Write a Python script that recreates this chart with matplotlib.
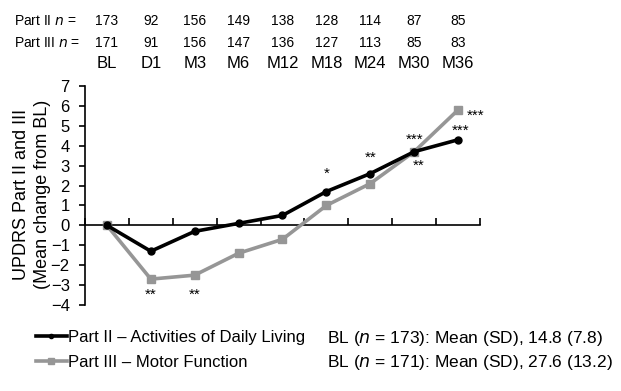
import matplotlib
matplotlib.use("Agg")
import matplotlib.pyplot as plt
import matplotlib.transforms as mtransforms
from matplotlib.lines import Line2D

plt.rcParams['font.family'] = ['Liberation Sans', 'DejaVu Sans']

# data
visits = ["BL", "D1", "M3", "M6", "M12", "M18", "M24", "M30", "M36"]
n_part2 = [173, 92, 156, 149, 138, 128, 114, 87, 85]
n_part3 = [171, 91, 156, 147, 136, 127, 113, 85, 83]
part2 = [0, -1.3, -0.3, 0.1, 0.5, 1.7, 2.6, 3.7, 4.3]
part3 = [0, -2.7, -2.5, -1.4, -0.7, 1.0, 2.1, 3.7, 5.8]

# significance marks: (visit index, y value, text, x offset)
stars = [(1, -3.5, "**", 0), (2, -3.5, "**", 0), (5, 2.6, "*", 0),
         (6, 3.4, "**", 0), (7, 4.3, "***", 0), (7, 3.0, "**", 0.1),
         (8, 4.75, "***", 0.05), (8, 5.5, "***", 0.4)]

W, H = 621, 391
fig = plt.figure(figsize=(W / 100, H / 100), dpi=100)

def fx(px):
    return px / W

def fy(py):
    return 1 - py / H

ax = fig.add_axes([fx(85), fy(305), fx(480) - fx(85), fy(86) - fy(305)])

gray = "#969696"
x = list(range(len(visits)))
ax.plot(x, part3, color=gray, lw=2.6, marker="s", ms=6, zorder=3)
ax.plot(x, part2, color="black", lw=2.6, marker="o", ms=5, zorder=4)

for i, yv, s, dx in stars:
    ax.text(i + dx, yv, s, ha="center", va="center", fontsize=11)

ax.set_xlim(-0.5, 8.5)
ax.set_ylim(-4, 7)
ax.set_yticks(range(-4, 8))
ax.set_xticks([i - 0.5 for i in range(10)])
ax.set_xticklabels([])
ax.spines["top"].set_visible(False)
ax.spines["right"].set_visible(False)
ax.spines["bottom"].set_position(("data", 0))
ax.spines["left"].set_linewidth(1.2)
ax.spines["bottom"].set_linewidth(1.2)
ax.tick_params(axis="x", direction="in", length=5, width=1.2)
ax.tick_params(axis="y", direction="out", length=4, width=1.2, pad=7, labelsize=12)

fig.text(fx(32), fy(194), "UPDRS Part II and III\n(Mean change from BL)",
         fontsize=13, rotation=90, ha="center", va="center",
         linespacing=1.3, multialignment="center")

# top n table, columns follow the data x positions
tr = mtransforms.blended_transform_factory(ax.transData, fig.transFigure)
fig.text(fx(14), fy(21), "Part II $\\it{n}$ =", fontsize=10, va="center")
fig.text(fx(14), fy(43), "Part III $\\it{n}$ =", fontsize=10, va="center")
for i, (a, b, v) in enumerate(zip(n_part2, n_part3, visits)):
    ax.text(i, fy(21), str(a), transform=tr, fontsize=10, ha="center", va="center")
    ax.text(i, fy(43), str(b), transform=tr, fontsize=10, ha="center", va="center")
    ax.text(i, fy(63), v, transform=tr, fontsize=12, ha="center", va="center")

# legend
handles = [Line2D([], [], color="black", lw=2.6, marker="o", ms=3),
           Line2D([], [], color=gray, lw=2.6, marker="s", ms=4)]
fig.legend(handles, ["Part II \u2013 Activities of Daily Living",
                     "Part III \u2013 Motor Function"],
           loc="upper left", bbox_to_anchor=(fx(36), fy(330)), frameon=False,
           fontsize=12, handlelength=1.85, handletextpad=0.1,
           labelspacing=0.6, borderpad=0, borderaxespad=0)
fig.text(fx(327), fy(338), "BL ($\\it{n}$ = 173): Mean (SD), 14.8 (7.8)",
         fontsize=12.5, va="center")
fig.text(fx(327), fy(362), "BL ($\\it{n}$ = 171): Mean (SD), 27.6 (13.2)",
         fontsize=12.5, va="center")

fig.savefig("out.png", dpi=100)
